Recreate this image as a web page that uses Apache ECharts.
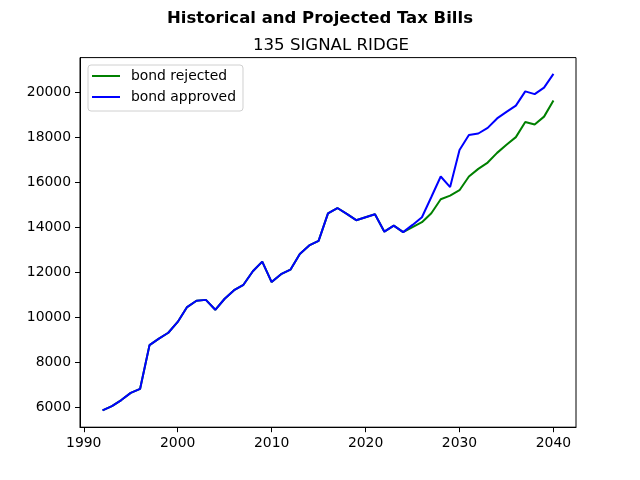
<!DOCTYPE html>
<html>
<head>
<meta charset="utf-8">
<style>
  html, body { margin: 0; padding: 0; background: #fff; }
  #chart { width: 640px; height: 480px; }
</style>
<script src="https://cdn.jsdelivr.net/npm/echarts@6/dist/echarts.min.js"></script>
</head>
<body>
<div id="chart"></div>
<script>
// 年份
const years = [1992, 1993, 1994, 1995, 1996, 1997, 1998, 1999, 2000, 2001,
    2002, 2003, 2004, 2005, 2006, 2007, 2008, 2009, 2010, 2011,
    2012, 2013, 2014, 2015, 2016, 2017, 2018, 2019, 2020, 2021,
    2022, 2023, 2024, 2025, 2026, 2027, 2028, 2029, 2030, 2031,
    2032, 2033, 2034, 2035, 2036, 2037, 2038, 2039, 2040];

// 历史税单 1992-2024
const historical = [5870, 6060, 6330, 6650, 6830, 8770, 9060, 9320, 9800, 10460,
    10740, 10780, 10340, 10830, 11210, 11450, 12050, 12480, 11570, 11920,
    12120, 12820, 13200, 13400, 14620, 14860, 14600, 14320, 14450, 14580,
    13810, 14080, 13790];

// 预测 2025-2040
const rejected = [14010, 14230, 14630, 15250, 15410, 15650, 16260, 16600,
    16880, 17310, 17670, 18010, 18680, 18570, 18920, 19640];
const approved = [14110, 14450, 15350, 16260, 15790, 17440, 18100, 18170,
    18420, 18840, 19130, 19410, 20040, 19920, 20210, 20820];

const xTicks = [1990, 2000, 2010, 2020, 2030, 2040];
const yTicks = [6000, 8000, 10000, 12000, 14000, 16000, 18000, 20000];

const fontFamily = 'DejaVu Sans';

function pairs(values) {
    return years.map((y, i) => [y, values[i]]);
}

const dom = document.getElementById('chart');
const myChart = echarts.init(dom);

const option = {
    backgroundColor: '#fff',
    animation: false,
    title: [
        {
            text: 'Historical and Projected Tax Bills',
            left: 'center',
            top: 5,
            textStyle: { fontFamily, fontSize: 16.5, fontWeight: 'bold', color: '#000' }
        },
        {
            text: '135 SIGNAL RIDGE',
            left: 326,
            textAlign: 'center',
            top: 32,
            textStyle: { fontFamily, fontSize: 16.6, fontWeight: 'normal', color: '#000' }
        }
    ],
    legend: {
        orient: 'vertical',
        left: 88,
        top: 65,
        padding: [4, 7, 7, 4],
        itemGap: 7,
        itemWidth: 28,
        itemHeight: 2,
        icon: 'rect',
        borderColor: '#d0d0d0',
        borderWidth: 1,
        borderRadius: 3,
        backgroundColor: 'rgba(255,255,255,0.8)',
        textStyle: { fontFamily, fontSize: 13.9, color: '#000', padding: [0, 0, 0, 6] },
        data: ['bond rejected', 'bond approved']
    },
    grid: {
        left: 80,
        right: 64,
        top: 57.6,
        bottom: 52.8,
        show: true,
        borderColor: '#000',
        borderWidth: 1
    },
    xAxis: {
        type: 'value',
        min: 1989.6,
        max: 2042.4,
        splitLine: { show: false },
        axisLine: { show: true, onZero: false, lineStyle: { color: '#000', width: 1 } },
        axisTick: { show: true, inside: false, length: 5, customValues: xTicks, lineStyle: { color: '#000' } },
        axisLabel: {
            customValues: xTicks, margin: 9, fontFamily, fontSize: 13.9, color: '#000',
            formatter: v => String(v)
        }
    },
    yAxis: {
        type: 'value',
        min: 5124,
        max: 21542,
        splitLine: { show: false },
        axisLine: { show: true, onZero: false, lineStyle: { color: '#000', width: 1 } },
        axisTick: { show: true, inside: false, length: 5, customValues: yTicks, lineStyle: { color: '#000' } },
        axisLabel: {
            customValues: yTicks, margin: 9, fontFamily, fontSize: 13.9, color: '#000',
            formatter: v => String(v)
        }
    },
    series: [
        {
            name: 'bond rejected',
            type: 'line',
            symbol: 'none',
            data: pairs(historical.concat(rejected)),
            itemStyle: { color: '#008000' },
            lineStyle: { color: '#008000', width: 2 }
        },
        {
            name: 'bond approved',
            type: 'line',
            symbol: 'none',
            data: pairs(historical.concat(approved)),
            itemStyle: { color: '#0000ff' },
            lineStyle: { color: '#0000ff', width: 2 }
        }
    ]
};

myChart.setOption(option);
</script>
</body>
</html>
